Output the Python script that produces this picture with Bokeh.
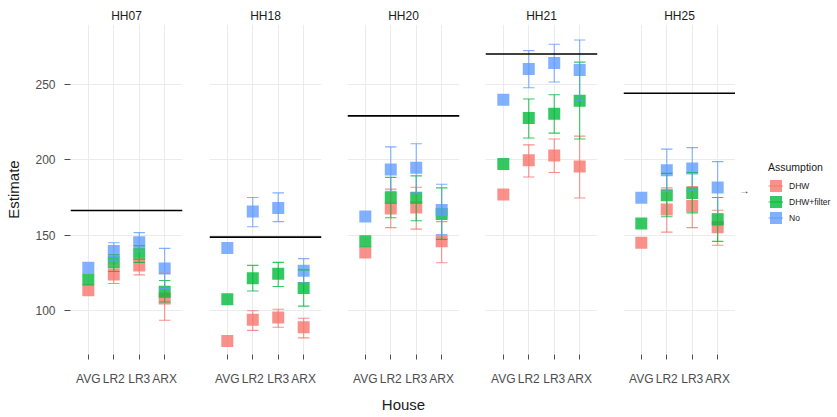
from bokeh.plotting import figure
from bokeh.models import (FactorRange, FixedTicker, Span, Label, Legend, LegendItem,
                          Range1d, ColumnDataSource)
from bokeh.transform import dodge
from bokeh.layouts import row
from bokeh.embed import file_html
from bokeh.resources import INLINE

houses = ["HH07", "HH18", "HH20", "HH21", "HH25"]
models = ["AVG", "LR2", "LR3", "ARX"]
assumptions = ["DHW", "DHW+filter", "No"]
colors = ["#F8766D", "#00BA38", "#619CFF"]
reference = [166.3, 148.7, 229.0, 270.0, 244.0]
y_ticks = [100, 150, 200, 250]

# estimates per house: [AVG, LR2, LR3, ARX]
dhw_est = [[113.5, 124.0, 130.0, 108.0], [80.0, 94.0, 95.5, 89.0], [138.5, 167.6, 168.3, 146.0],
           [177.0, 199.6, 202.8, 195.5], [145.0, 167.0, 169.4, 155.2]]
dhw_low = [[None, 118.0, 123.7, 93.7], [None, 87.0, 89.0, 82.0], [None, 155.0, 154.0, 131.7],
           [None, 188.5, 191.5, 174.6], [None, 152.0, 155.0, 143.3]]
dhw_high = [[None, 130.0, 135.0, 124.8], [None, 100.0, 101.0, 95.0], [None, 180.5, 181.7, 159.0],
            [None, 209.8, 213.7, 215.6], [None, 181.3, 182.2, 166.5]]

flt_est = [[120.6, 132.0, 137.6, 112.6], [107.5, 121.5, 124.5, 115.0], [146.0, 174.8, 174.8, 164.0],
           [197.2, 227.6, 230.4, 239.0], [157.8, 176.5, 178.0, 160.4]]
flt_low = [[None, 126.0, 132.0, 105.8], [None, 113.0, 116.0, 103.0], [None, 161.5, 159.6, 147.2],
           [None, 214.3, 217.6, 213.7], [None, 162.2, 164.8, 145.9]]
flt_high = [[None, 137.0, 143.0, 120.0], [None, 130.0, 132.0, 127.0], [None, 188.3, 189.3, 181.3],
            [None, 240.2, 243.0, 264.6], [None, 190.9, 191.5, 175.0]]

no_est = [[128.5, 139.5, 145.4, 128.0], [141.5, 165.7, 168.0, 126.5], [162.4, 193.5, 194.6, 166.7],
          [239.6, 260.0, 264.0, 259.3], [174.8, 193.0, 194.2, 181.5]]
no_low = [[None, 133.0, 139.0, 114.6], [None, 155.6, 159.0, 118.5], [None, 179.0, 178.0, 150.4],
          [None, 247.6, 251.4, 239.0], [None, 179.0, 179.8, 164.4]]
no_high = [[None, 145.0, 151.7, 141.3], [None, 175.0, 178.0, 134.5], [None, 208.5, 210.5, 183.7],
           [None, 272.2, 276.4, 279.2], [None, 207.0, 208.0, 198.7]]

series = [(dhw_est, dhw_low, dhw_high), (flt_est, flt_low, flt_high), (no_est, no_low, no_high)]

FONT = "Liberation Sans"
GRID = "#EBEBEB"
TOP = 24
FRAME_H = 334
BOTTOM = 57
H = TOP + FRAME_H + BOTTOM
FRAME_W = 112
lefts = [70, 14, 13, 13, 13]
rights = [13, 13, 13, 13, 0]

figs = []
for i, h in enumerate(houses):
    first = i == 0
    p = figure(x_range=FactorRange(factors=models, range_padding=0.2, range_padding_units="absolute"),
               y_range=Range1d(71, 289.5),
               width=lefts[i] + FRAME_W + rights[i], height=H,
               min_border_left=lefts[i], min_border_right=rights[i],
               min_border_top=TOP, min_border_bottom=BOTTOM,
               toolbar_location=None, output_backend="svg",
               y_axis_location="left" if first else None, title=h)
    p.outline_line_color = None
    p.background_fill_color = "white"
    p.title.align = "center"
    p.title.text_font = FONT
    p.title.text_font_size = "12px"
    p.title.text_font_style = "normal"
    p.title.text_color = "#1A1A1A"
    p.title.standoff = 3
    p.title.offset = 0

    p.xgrid.grid_line_color = GRID
    p.ygrid.grid_line_color = GRID
    p.ygrid.ticker = FixedTicker(ticks=y_ticks)

    xa = p.xaxis[0]
    xa.axis_line_color = None
    xa.major_tick_in = 0
    xa.major_tick_out = 5
    xa.major_tick_line_color = "#4D4D4D"
    xa.major_label_standoff = 12
    xa.major_label_text_font = FONT
    xa.major_label_text_font_size = "12px"
    xa.major_label_text_color = "#4D4D4D"
    if i == 2:
        xa.axis_label = "House"
        xa.axis_label_text_font = FONT
        xa.axis_label_text_font_size = "15px"
        xa.axis_label_text_font_style = "normal"
        xa.axis_label_text_color = "#1A1A1A"
        xa.axis_label_standoff = 7

    if first:
        ya = p.yaxis[0]
        ya.ticker = FixedTicker(ticks=y_ticks)
        ya.axis_line_color = None
        ya.major_tick_in = 0
        ya.major_tick_out = 6
        ya.minor_tick_line_color = None
        ya.major_tick_line_color = "#4D4D4D"
        ya.major_label_standoff = 9
        ya.major_label_text_font = FONT
        ya.major_label_text_font_size = "12px"
        ya.major_label_text_color = "#4D4D4D"
        ya.axis_label = "Estimate"
        ya.axis_label_text_font = FONT
        ya.axis_label_text_font_size = "15px"
        ya.axis_label_text_font_style = "normal"
        ya.axis_label_text_color = "#1A1A1A"
        ya.axis_label_standoff = 10

    # points
    for (est, lo, hi), c in zip(series, colors):
        src = ColumnDataSource(dict(x=models, y=est[i]))
        p.scatter("x", "y", source=src, marker="square", size=12,
                  fill_color=c, fill_alpha=0.8, line_color=None)
    # error bars
    for (est, lo, hi), c in zip(series, colors):
        xs = [m for m, l in zip(models, lo[i]) if l is not None]
        los = [l for l in lo[i] if l is not None]
        his = [u for u in hi[i] if u is not None]
        esrc = ColumnDataSource(dict(x=xs, lo=los, hi=his))
        kw = dict(source=esrc, line_color=c, line_alpha=0.8, line_width=1.1)
        p.segment(x0="x", y0="lo", x1="x", y1="hi", **kw)
        p.segment(x0=dodge("x", -0.225, range=p.x_range), y0="lo",
                  x1=dodge("x", 0.225, range=p.x_range), y1="lo", **kw)
        p.segment(x0=dodge("x", -0.225, range=p.x_range), y0="hi",
                  x1=dodge("x", 0.225, range=p.x_range), y1="hi", **kw)

    p.add_layout(Span(location=reference[i], dimension="width",
                      line_color="black", line_width=1.6))
    figs.append(p)

# legend panel
lg = figure(width=96, height=H, min_border_left=0, min_border_right=0,
            min_border_top=TOP, min_border_bottom=BOTTOM,
            x_range=Range1d(0, 1), y_range=Range1d(0, 1),
            toolbar_location=None, output_backend="svg",
            x_axis_location=None, y_axis_location=None)
lg.outline_line_color = None
lg.grid.visible = False
items = []
for name, c in zip(assumptions, colors):
    q = lg.quad(left=[5], right=[6], top=[6], bottom=[5], fill_color=c, fill_alpha=0.8, line_color=None)
    ln = lg.line(x=[5, 6], y=[5, 5], line_color=c, line_alpha=0.8, line_width=1.1)
    items.append(LegendItem(label=name, renderers=[q, ln]))
legend = Legend(items=items, location=(33, 129), title="Assumption",
                title_text_font=FONT, title_text_font_size="10.5px", title_text_font_style="normal",
                title_text_color="#1A1A1A", title_standoff=5,
                label_text_font=FONT, label_text_font_size="8.5px", label_text_color="#1A1A1A",
                glyph_width=15, glyph_height=15, label_height=15, label_standoff=6, spacing=1,
                padding=0, margin=0, border_line_color=None, background_fill_alpha=0)
lg.add_layout(legend)
lg.add_layout(Label(x=4, y=164, x_units="screen", y_units="screen", text="→",
                    text_align="left", text_baseline="middle",
                    text_font=FONT, text_font_size="10px", text_color="#333333"))

layout = row(*figs, lg)
open("out.html", "w").write(file_html(layout, INLINE))
